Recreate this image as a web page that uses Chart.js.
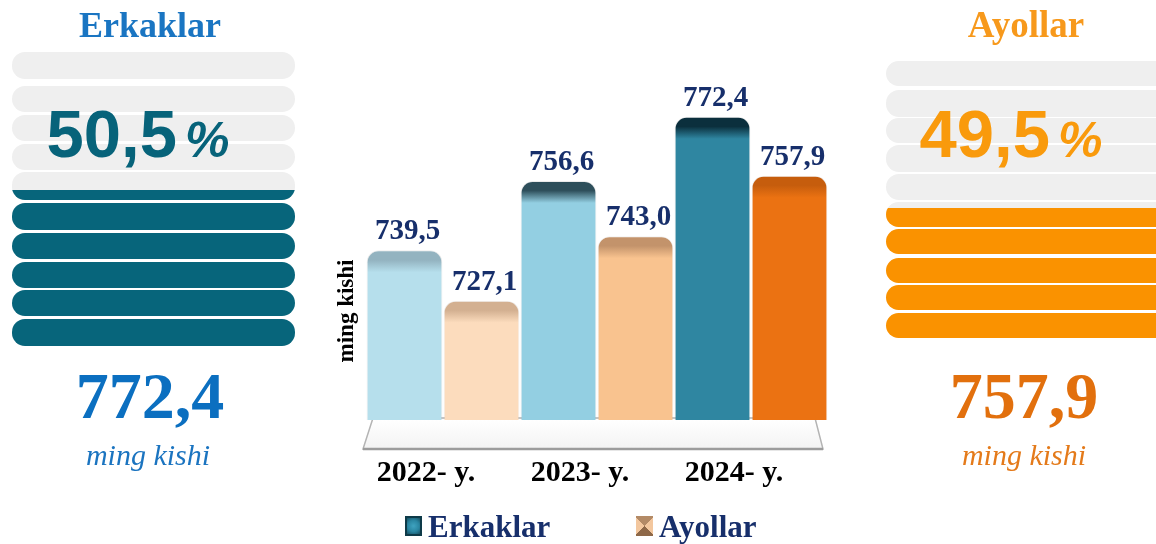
<!DOCTYPE html>
<html>
<head>
<meta charset="utf-8">
<script src="https://cdn.jsdelivr.net/npm/chart.js@4.4.1/dist/chart.umd.min.js"></script>
<style>
html,body{margin:0;padding:0;background:#ffffff;}
body{width:1156px;height:544px;position:relative;overflow:hidden;font-family:"Liberation Serif","Times New Roman",serif;}
#chart{position:absolute;left:0;top:0;}
.t{position:absolute;white-space:nowrap;line-height:1;text-align:center;}
.stripe{position:absolute;overflow:hidden;background:#efefef;border-radius:13px;}
.fill{position:absolute;left:0;right:0;bottom:0;}
.lg{position:absolute;white-space:nowrap;line-height:1;font-weight:bold;font-size:31px;color:#172f6b;}
.lbox{position:absolute;box-sizing:border-box;}
</style>
</head>
<body>
<canvas id="chart" width="1156" height="544"></canvas>
<div id="panels"></div>
<div id="legend"></div>
<script>
// ---------- data ----------
const categories = ['2022- y.', '2023- y.', '2024- y.'];
const seriesNames = ['Erkaklar', 'Ayollar'];
const erkaklar = [739.5, 756.6, 772.4];
const ayollar = [727.1, 743.0, 757.9];
const shareErkaklar = '50,5';
const shareAyollar = '49,5';
const latestErkaklar = '772,4';
const latestAyollar = '757,9';
const unitLabel = 'ming kishi';

// ---------- styles ----------
const erkColors = ['#b6dfec', '#93cfe2', '#2f86a1'];
const erkCaps   = ['#93b3c0', '#2e4f5b', '#0b2f3d'];
const ayColors  = ['#fcdcbd', '#f9c38f', '#eb7212'];
const ayCaps    = ['#d3b091', '#c3936b', '#c65d0d'];

function barFill(colors, caps) {
  return function (ctx) {
    const i = ctx.dataIndex;
    const base = colors[i];
    const chart = ctx.chart;
    if (ctx.type !== 'data' || !chart.chartArea || !chart.scales.y) return base;
    const y = chart.scales.y.getPixelForValue(ctx.raw);
    const g = chart.ctx.createLinearGradient(0, y, 0, y + 44);
    g.addColorStop(0, caps[i]);
    g.addColorStop(0.22, caps[i]);
    g.addColorStop(0.5, base);
    g.addColorStop(1, base);
    return g;
  };
}

const floorPlugin = {
  id: 'floor3d',
  beforeDatasetsDraw(chart) {
    const {ctx, chartArea: a} = chart;
    const b = a.bottom;
    ctx.save();
    ctx.beginPath();
    ctx.moveTo(a.left + 7, b - 2);
    ctx.lineTo(a.right - 13, b - 2);
    ctx.lineTo(a.right - 5, b + 29);
    ctx.lineTo(a.left - 3, b + 29);
    ctx.closePath();
    const g = ctx.createLinearGradient(0, b, 0, b + 29);
    g.addColorStop(0, '#ffffff');
    g.addColorStop(1, '#f3f3f3');
    ctx.fillStyle = g;
    ctx.fill();
    ctx.strokeStyle = '#b4b4b4';
    ctx.lineWidth = 1.5;
    ctx.stroke();
    ctx.beginPath();
    ctx.moveTo(a.left - 3, b + 29);
    ctx.lineTo(a.right - 5, b + 29);
    ctx.strokeStyle = '#9c9c9c';
    ctx.lineWidth = 2.5;
    ctx.stroke();
    // y-axis unit title (placed like the original, below the middle of the plot)
    ctx.translate(a.left - 19, a.bottom - 109);
    ctx.rotate(-Math.PI / 2);
    ctx.font = 'bold 23px "Liberation Serif", serif';
    ctx.fillStyle = '#000000';
    ctx.textAlign = 'center';
    ctx.textBaseline = 'middle';
    ctx.fillText(unitLabel, 0, 0);
    ctx.restore();
  }
};

const valueLabels = {
  id: 'valueLabels',
  afterDatasetsDraw(chart) {
    const ctx = chart.ctx;
    ctx.save();
    ctx.font = 'bold 29px "Liberation Serif", serif';
    ctx.fillStyle = '#172f6b';
    ctx.textAlign = 'center';
    ctx.textBaseline = 'alphabetic';
    chart.data.datasets.forEach((ds, di) => {
      const meta = chart.getDatasetMeta(di);
      meta.data.forEach((bar, i) => {
        const txt = ds.data[i].toFixed(1).replace('.', ',');
        ctx.fillText(txt, bar.x + 3, bar.y - 11);
      });
    });
    ctx.restore();
  }
};

const chart = new Chart(document.getElementById('chart'), {
  type: 'bar',
  data: {
    labels: categories,
    datasets: [
      {label: seriesNames[0], data: erkaklar, backgroundColor: barFill(erkColors, erkCaps),
       borderColor: 'rgba(0,0,0,0.08)', borderWidth: 1, borderRadius: 12, borderSkipped: false},
      {label: seriesNames[1], data: ayollar, backgroundColor: barFill(ayColors, ayCaps),
       borderColor: 'rgba(0,0,0,0.06)', borderWidth: 1, borderRadius: 12, borderSkipped: false}
    ]
  },
  options: {
    responsive: false,
    animation: false,
    layout: {padding: {left: 366, right: 328, top: 60, bottom: 18}},
    datasets: {bar: {categoryPercentage: 1.0, barPercentage: 0.985}},
    plugins: {legend: {display: false}, tooltip: {enabled: false}},
    scales: {
      x: {
        grid: {display: false, drawTicks: false},
        border: {display: false},
        ticks: {color: '#000000', padding: 35, labelOffset: -17,
                font: {family: '"Liberation Serif", serif', size: 30, weight: 'bold'}}
      },
      y: {
        display: false,
        min: 697.7, max: 786.4
      }
    }
  },
  plugins: [floorPlugin, valueLabels]
});

// ---------- side panels ----------
const panels = document.getElementById('panels');
function addText(txt, cx, baseline, size, color, opts) {
  opts = opts || {};
  const d = document.createElement('div');
  d.className = 't';
  const asc = opts.sans ? 0.8465 : 0.8375;
  d.style.left = (cx - 250) + 'px';
  d.style.width = '500px';
  d.style.top = (baseline - asc * size) + 'px';
  d.style.fontSize = size + 'px';
  d.style.color = color;
  d.style.fontFamily = opts.sans ? '"Liberation Sans", Arial, sans-serif' : '"Liberation Serif", "Times New Roman", serif';
  d.style.fontWeight = opts.bold === false ? 'normal' : 'bold';
  if (opts.italic) d.style.fontStyle = 'italic';
  if (opts.html) d.innerHTML = txt; else d.textContent = txt;
  panels.appendChild(d);
  return d;
}
function addStripes(left, width, tops, heights, fillFrom, partialIdx, partialH, color) {
  tops.forEach((t, i) => {
    const s = document.createElement('div');
    s.className = 'stripe';
    s.style.left = left + 'px';
    s.style.width = width + 'px';
    s.style.top = t + 'px';
    s.style.height = heights[i] + 'px';
    if (i >= fillFrom) s.style.background = color;
    else if (i === partialIdx) {
      const f = document.createElement('div');
      f.className = 'fill';
      f.style.height = partialH + 'px';
      f.style.background = color;
      s.appendChild(f);
    }
    panels.appendChild(s);
  });
}
// left (Erkaklar)
addStripes(12, 283, [52, 86, 115, 144, 172, 203, 233, 262, 290, 319],
  [27, 26, 26, 26, 28, 27, 26, 26, 26, 27], 5, 4, 10, '#07657b');
addText(seriesNames[0], 150, 37, 36, '#1a75c2');
addText(shareErkaklar + '<span style="font-size:50px;font-style:italic;margin-left:8px">%</span>',
  138, 157, 67, '#07637a', {sans: true, html: true});
addText(latestErkaklar, 150, 418, 66, '#0b6fc0');
addText(unitLabel, 148, 465, 30, '#1b74c0', {italic: true, bold: false});

// right (Ayollar)
addStripes(886, 300, [61, 90, 118, 145, 174, 202, 229, 258, 285, 313],
  [25, 27, 25, 27, 26, 25, 25, 25, 25, 25], 6, 5, 19, '#fa9200');
addText(seriesNames[1], 1026, 37, 37, '#f7991c');
addText(shareAyollar + '<span style="font-size:50px;font-style:italic;margin-left:8px">%</span>',
  1011, 157, 67, '#f99a0c', {sans: true, html: true});
addText(latestAyollar, 1024, 418, 66, '#e2700d');
addText(unitLabel, 1024, 465, 30, '#e47a1a', {italic: true, bold: false});

// ---------- legend (built from chart datasets) ----------
const legendEl = document.getElementById('legend');
const legendBoxX = [405, 636];
const legendBoxStyles = [
  'background:radial-gradient(circle,#3fa3c0 0%,#2a86a2 55%,#164f61 100%);border:2px solid #0e3a48;',
  'background:conic-gradient(from 45deg,#f3c79e 0 90deg,#8e6848 90deg 180deg,#f3c79e 180deg 270deg,#b38a66 270deg 360deg);'
];
chart.data.datasets.forEach((ds, i) => {
  const box = document.createElement('div');
  box.className = 'lbox';
  box.style.cssText = 'left:' + legendBoxX[i] + 'px;top:516px;width:17px;height:20px;' + legendBoxStyles[i];
  legendEl.appendChild(box);
  const tx = document.createElement('div');
  tx.className = 'lg';
  tx.style.left = (legendBoxX[i] + 23) + 'px';
  tx.style.top = (537 - 0.8375 * 31) + 'px';
  tx.textContent = ds.label;
  legendEl.appendChild(tx);
});
</script>
</body>
</html>
